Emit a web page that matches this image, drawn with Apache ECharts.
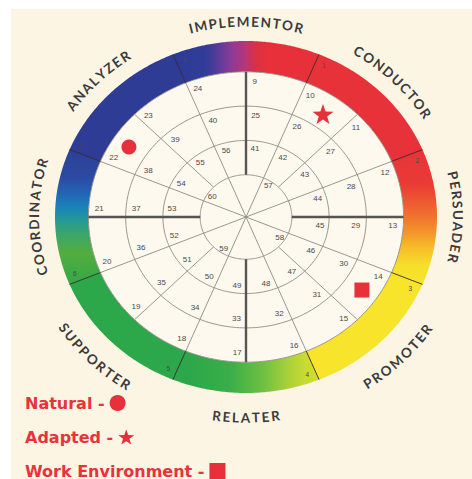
<!DOCTYPE html>
<html><head><meta charset="utf-8">
<script src="https://cdn.jsdelivr.net/npm/echarts@6/dist/echarts.min.js"></script>
<style>html,body{margin:0;padding:0;background:#fff}#c{width:472px;height:479px}</style>
</head><body><div id="c"></div>
<script>
// ---------------- data ----------------
const categories = ['IMPLEMENTOR','CONDUCTOR','PERSUADER','PROMOTER','RELATER','SUPPORTER','COORDINATOR','ANALYZER'];
const categoryAngles = [0, 45, 90, 135, 180, 225, 270, 315];
const sectorNumbers = ['1','2','3','4','5','6','7','8'];
const sectorNumberAngles = [22.5, 67.5, 112.5, 157.5, 202.5, 247.5, 292.5, 337.5];
const ring1Labels = [9,10,11,12,13,14,15,16,17,18,19,20,21,22,23,24];
const ring2Labels = [25,26,27,28,29,30,31,32,33,34,35,36,37,38,39,40];
const ring3Labels = [41,42,43,44,45,46,47,48,49,50,51,52,53,54,55,56];
const innerLabels = [57,58,59,60];
const innerLabelAngles = [22.5, 112.5, 202.5, 292.5];
const legendNames = ['Natural', 'Adapted', 'Work Environment'];
// marker positions (x: left-right, y: down-up, wheel outer edge = 1)
const natural = [[-0.613, 0.398]];
const adapted = [[0.403, 0.585]];
const workEnvironment = [[0.607, -0.415]];

// ---------------- layout / style ----------------
const BAND_OUT = 1.0, BAND_IN = 0.825;
const webRadii = [0.24, 0.435, 0.63, 0.825];
const RED = '#e8303a';
const STAR = 'path://M0,-10 L2.35,-3.24 L9.51,-3.09 L3.80,1.24 L5.88,8.09 L0,4 L-5.88,8.09 L-3.80,1.24 L-9.51,-3.09 L-2.35,-3.24 Z';
const legendIcons = ['circle', STAR, 'rect'];
const legendTops = [395, 429, 463];
function lg(horizontal, stops) {
  return { type: 'linear', x: 0, y: 0, x2: horizontal ? 1 : 0, y2: horizontal ? 0 : 1,
    colorStops: stops.map(s => ({ offset: s[0], color: s[1] })) };
}
const bandFills = [
  lg(true, [[0,'#2d3b96'],[0.22,'#2f3c98'],[0.30,'#553c9b'],[0.40,'#8c3a96'],[0.49,'#b5367a'],[0.57,'#da3143'],[0.65,'#e8303a'],[1,'#e8303a']]),
  '#e8323a',
  lg(false, [[0,'#e8343a'],[0.25,'#ea3b36'],[0.42,'#ee5f2f'],[0.58,'#f28b2b'],[0.73,'#f6bd28'],[0.86,'#f6df2a'],[1,'#f7e42b']]),
  '#f7e42b',
  lg(true, [[0,'#2ca84a'],[0.12,'#2ca84a'],[0.39,'#3aae48'],[0.61,'#6cbf43'],[0.77,'#a2cf3b'],[0.9,'#c8da33'],[1,'#d2dd30']]),
  '#2ca84a',
  lg(false, [[0,'#2d3f98'],[0.2,'#2c4aa2'],[0.33,'#2266b4'],[0.43,'#1a84b8'],[0.53,'#259a94'],[0.63,'#3ca66a'],[0.77,'#52ad3e'],[1,'#33a848']]),
  '#2e3c96'
];

// spokes: [angle, r0, r1, kind]
const spokes = [];
sectorNumberAngles.forEach(a => spokes.push([a, 0, BAND_IN, 'thin']));
[45, 135, 225, 315].forEach(a => spokes.push([a, webRadii[0], BAND_IN, 'thin']));
[0, 90, 180, 270].forEach(a => spokes.push([a, webRadii[0], BAND_IN, 'thick']));
sectorNumberAngles.forEach(a => spokes.push([a, BAND_IN, BAND_OUT, 'band']));

// number labels: {text, r, angle, size}
const numLabels = [];
ring1Labels.forEach((t, i) => numLabels.push({ text: String(t), r: 0.77, angle: i * 22.5 + 3.4, size: 8 }));
ring2Labels.forEach((t, i) => numLabels.push({ text: String(t), r: 0.577, angle: i * 22.5 + 5, size: 8 }));
ring3Labels.forEach((t, i) => numLabels.push({ text: String(t), r: 0.39, angle: i * 22.5 + 7, size: 8 }));
innerLabels.forEach((t, i) => numLabels.push({ text: String(t), r: 0.212, angle: innerLabelAngles[i] + 11, size: 8 }));
sectorNumbers.forEach((t, i) => numLabels.push({ text: t, r: 0.952, angle: sectorNumberAngles[i] + 2.8, size: 6.5 }));

function P(api, r, deg) {
  const a = deg * Math.PI / 180;
  return api.coord([r * Math.sin(a), r * Math.cos(a)]);
}
const idx = arr => arr.map((_, i) => [0, 0, i]);

const measureCtx = document.createElement('canvas').getContext('2d');
const LABEL_FONT = { size: 13.5, family: 'Lato', weight: 'bold', spacing: 1.7 };
measureCtx.font = 'bold ' + LABEL_FONT.size + 'px ' + LABEL_FONT.family;

const chart = echarts.init(document.getElementById('c'), null, { renderer: 'svg' });
chart.setOption({
  animation: false,
  backgroundColor: '#ffffff',
  graphic: [{ type: 'rect', left: 11, top: 9, z: -100, silent: true,
    shape: { width: 461, height: 470 }, style: { fill: '#fcf5e3' } }],
  grid: { left: 55, top: 41, width: 382, height: 352 },
  xAxis: { type: 'value', min: -1, max: 1, show: false },
  yAxis: { type: 'value', min: -1, max: 1, show: false },
  legend: legendNames.map((n, i) => ({
    orient: 'vertical', left: 25, top: legendTops[i], align: 'right',
    itemWidth: 16, itemHeight: 16, selectedMode: false, padding: 0,
    formatter: name => name + ' -',
    textStyle: { color: '#e8323c', fontSize: 16, fontWeight: 'bold', fontFamily: 'DejaVu Sans' },
    data: [{ name: n, icon: legendIcons[i] }]
  })),
  series: [
    { // coloured band
      type: 'custom', silent: true, z: 1, data: idx(categories),
      renderItem(params, api) {
        const i = params.dataIndex;
        const a0 = categoryAngles[i] - 22.5, a1 = categoryAngles[i] + 22.5;
        const pts = [];
        for (let d = a0; d <= a1 + 1e-6; d += 0.5) pts.push(P(api, BAND_OUT, d));
        for (let d = a1; d >= a0 - 1e-6; d -= 0.5) pts.push(P(api, BAND_IN, d));
        return { type: 'polygon', shape: { points: pts }, style: { fill: bandFills[i] } };
      }
    },
    { // web circles
      type: 'custom', silent: true, z: 2, data: idx(webRadii),
      renderItem(params, api) {
        const r = webRadii[params.dataIndex];
        const pts = [];
        for (let d = 0; d < 360; d += 1.5) pts.push(P(api, r, d));
        const outer = params.dataIndex === webRadii.length - 1;
        return { type: 'polygon', shape: { points: pts },
          style: { fill: outer ? '#fdf9ee' : 'none', stroke: '#8f8c82', lineWidth: 0.9 },
          z2: outer ? 0 : 5 };
      }
    },
    { // spokes
      type: 'custom', silent: true, z: 3, data: idx(spokes),
      renderItem(params, api) {
        const s = spokes[params.dataIndex];
        const p0 = P(api, s[1], s[0]), p1 = P(api, s[2], s[0]);
        const st = s[3] === 'thick' ? { stroke: '#555555', lineWidth: 2.4 }
          : s[3] === 'band' ? { stroke: 'rgba(45,30,30,0.85)', lineWidth: 1 }
          : { stroke: '#8f8c82', lineWidth: 0.9 };
        return { type: 'line', shape: { x1: p0[0], y1: p0[1], x2: p1[0], y2: p1[1] }, style: st };
      }
    },
    { // number labels
      type: 'custom', silent: true, z: 4, data: idx(numLabels),
      renderItem(params, api) {
        const l = numLabels[params.dataIndex];
        const p = P(api, l.r, l.angle);
        return { type: 'text', x: p[0], y: p[1],
          style: { text: l.text, fill: '#4a4a4a', fontSize: l.size, fontFamily: 'Liberation Sans',
            align: 'center', verticalAlign: 'middle' } };
      }
    },
    { // curved outer labels
      type: 'custom', silent: true, z: 4, data: idx(categories),
      renderItem(params, api) {
        const i = params.dataIndex;
        const text = categories[i];
        const a0 = categoryAngles[i];
        const bottom = a0 > 100 && a0 < 260;
        const r = bottom ? 1.14 : 1.11;
        const sz = api.size([1, 1]);
        const ar = a0 * Math.PI / 180;
        const L = r * Math.sqrt(Math.pow(sz[0] * Math.cos(ar), 2) + Math.pow(sz[1] * Math.sin(ar), 2));
        const chars = text.split('');
        const widths = chars.map(c => measureCtx.measureText(c).width);
        const total = widths.reduce((a, b) => a + b, 0) + LABEL_FONT.spacing * (chars.length - 1);
        let s = -total / 2;
        const children = chars.map((c, k) => {
          const sc = s + widths[k] / 2;
          s += widths[k] + LABEL_FONT.spacing;
          const a = ar + (bottom ? -1 : 1) * sc / L;
          const p = api.coord([r * Math.sin(a), r * Math.cos(a)]);
          const rot = bottom ? Math.atan2(sz[1] * Math.sin(a), -sz[0] * Math.cos(a))
                             : Math.atan2(-sz[1] * Math.sin(a), sz[0] * Math.cos(a));
          return { type: 'text', x: p[0], y: p[1], rotation: rot,
            style: { text: c, fill: '#3b3b3b', fontSize: LABEL_FONT.size, fontWeight: LABEL_FONT.weight,
              fontFamily: LABEL_FONT.family, align: 'center', verticalAlign: 'middle' } };
        });
        return { type: 'group', children };
      }
    },
    { name: 'Natural', type: 'scatter', z: 10, symbol: 'circle', symbolSize: 15, data: natural,
      itemStyle: { color: RED, opacity: 1 } },
    { name: 'Adapted', type: 'scatter', z: 10, symbol: STAR, symbolKeepAspect: true, symbolSize: 21, data: adapted,
      itemStyle: { color: RED, opacity: 1 } },
    { name: 'Work Environment', type: 'scatter', z: 10, symbol: 'rect', symbolSize: 15, data: workEnvironment,
      itemStyle: { color: RED, opacity: 1 } }
  ]
});
</script></body></html>
